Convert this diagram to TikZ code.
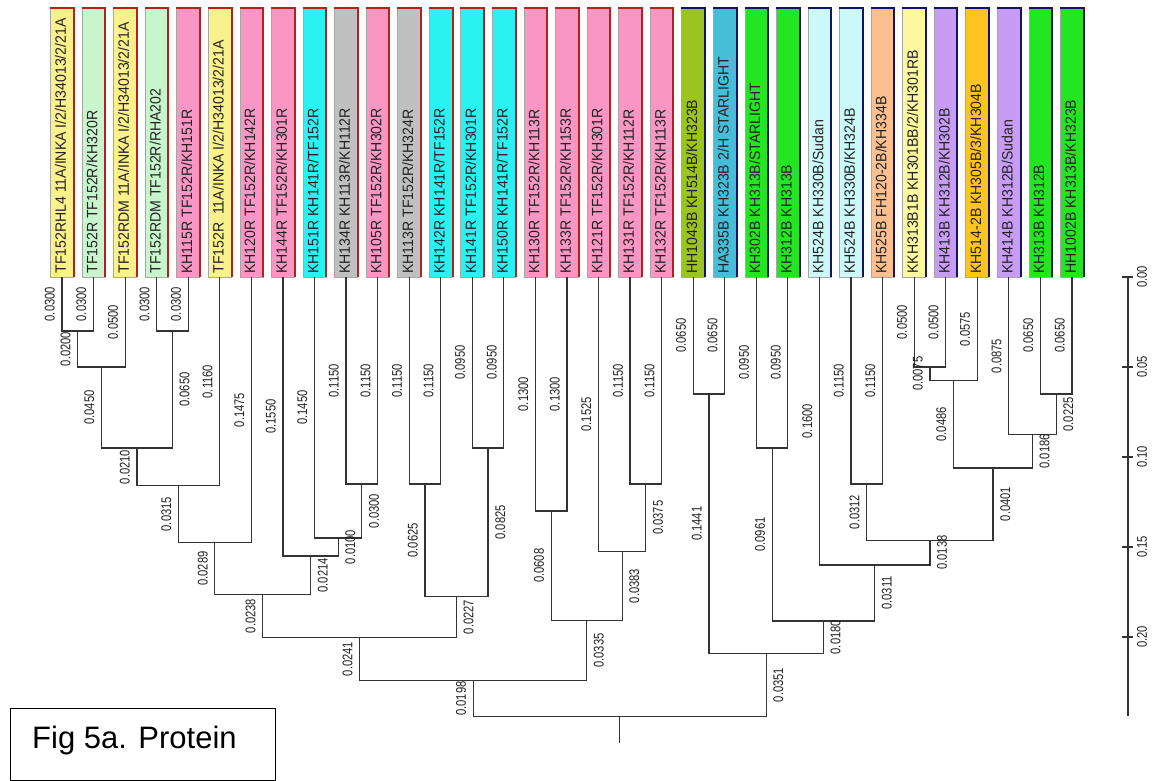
\documentclass[tikz,border=0pt]{standalone}
\usepackage{fontspec}
\setmainfont{Liberation Sans}
\newfontfamily\narrowfont[FakeStretch=0.8]{Liberation Sans}
\newfontfamily\leaffont[FakeStretch=0.94]{Liberation Sans}
\usetikzlibrary{calc}
\definecolor{cyel}{HTML}{FAF08C}
\definecolor{clgr}{HTML}{C8F5CC}
\definecolor{cpink}{HTML}{FA96C4}
\definecolor{ccyan}{HTML}{2AF2F2}
\definecolor{cgray}{HTML}{C0C0C0}
\definecolor{colive}{HTML}{9CC41E}
\definecolor{cteal}{HTML}{46BEDA}
\definecolor{cgreen}{HTML}{22E622}
\definecolor{clcyan}{HTML}{CCFAFA}
\definecolor{cpeach}{HTML}{FCC090}
\definecolor{clyel}{HTML}{FCF8A0}
\definecolor{clav}{HTML}{C89CF4}
\definecolor{corange}{HTML}{FCC420}
\definecolor{bred}{HTML}{B4201E}
\definecolor{bnavy}{HTML}{141464}
\definecolor{txtc}{HTML}{222222}
\definecolor{linec}{HTML}{333333}
\newcommand\brfont{\narrowfont\fontsize{14}{14}\selectfont}
\newcommand\lffont{\leaffont\fontsize{15}{15}\selectfont}
\newcommand\mkleaf[4]{%
  \node[lbox, fill=#2] (B#1) at ({62+31.56*(#1-1)},142.5) {};
  \draw[#3, line width=2pt] (B#1.north west) -- (B#1.north east) -- (B#1.south east);
  \node[ltext] (T#1) at ([xshift=-1.5pt,yshift=3.5pt]B#1.south) {#4};
  \coordinate (L#1) at (B#1.south);
}
\newcommand\jn[4]{%
  \path ($(#2)!0.5!(#3)$) coordinate (#1-m);
  \pgfmathsetmacro\jy{277+1800*#4}
  \coordinate (#1) at (#1-m |- 0,\jy);
}
\newcommand\brlab[4]{\path (#1) -- (#1 |- #2) node[pos=0.5,#4] {#3};}
\begin{document}
\begin{tikzpicture}[x=1pt,y=-1pt,
  lbox/.style={rectangle, inner sep=0pt, minimum width=23pt, minimum height=269pt, draw=gray!70, line width=0.6pt},
  ltext/.style={rotate=90, anchor=west, inner sep=0pt, font=\lffont, text=txtc},
  br/.style={line width=1.2pt, draw=linec},
  bll/.style={xshift=-6pt, rotate=90, anchor=south, inner sep=1pt, font=\brfont, text=txtc},
  blr/.style={xshift=6pt, rotate=90, anchor=north, inner sep=1pt, font=\brfont, text=txtc},
  axl/.style={rotate=90, anchor=north, inner sep=1pt, font=\brfont, text=txtc}]
\useasboundingbox (0,0) rectangle (1156,781);
\fill[white] (0,0) rectangle (1156,781);
% leaves
\mkleaf{1}{cyel}{bred}{TF152RHL4 11A/INKA I/2/H34013/2/21A}
\mkleaf{2}{clgr}{bred}{TF152R TF152R/KH320R}
\mkleaf{3}{cyel}{bred}{TF152RDM 11A/INKA I/2/H34013/2/21A}
\mkleaf{4}{clgr}{bred}{TF152RDM TF152R/RHA202}
\mkleaf{5}{cpink}{bred}{KH115R TF152R/KH151R}
\mkleaf{6}{cyel}{bred}{TF152R\ \ 11A/INKA I/2/H34013/2/21A}
\mkleaf{7}{cpink}{bred}{KH120R TF152R/KH142R}
\mkleaf{8}{cpink}{bred}{KH144R TF152R/KH301R}
\mkleaf{9}{ccyan}{bred}{KH151R KH141R/TF152R}
\mkleaf{10}{cgray}{bred}{KH134R KH113R/KH112R}
\mkleaf{11}{cpink}{bred}{KH105R TF152R/KH302R}
\mkleaf{12}{cgray}{bred}{KH113R TF152R/KH324R}
\mkleaf{13}{ccyan}{bred}{KH142R KH141R/TF152R}
\mkleaf{14}{ccyan}{bred}{KH141R TF152R/KH301R}
\mkleaf{15}{ccyan}{bred}{KH150R KH141R/TF152R}
\mkleaf{16}{cpink}{bred}{KH130R TF152R/KH113R}
\mkleaf{17}{cpink}{bred}{KH133R TF152R/KH153R}
\mkleaf{18}{cpink}{bred}{KH121R TF152R/KH301R}
\mkleaf{19}{cpink}{bred}{KH131R TF152R/KH112R}
\mkleaf{20}{cpink}{bred}{KH132R TF152R/KH113R}
\mkleaf{21}{colive}{bnavy}{HH1043B KH514B/KH323B}
\mkleaf{22}{cteal}{bnavy}{HA335B KH323B 2/H STARLIGHT}
\mkleaf{23}{cgreen}{bnavy}{KH302B KH313B/STARLIGHT}
\mkleaf{24}{cgreen}{bnavy}{KH312B KH313B}
\mkleaf{25}{clcyan}{bnavy}{KH524B KH330B/Sudan}
\mkleaf{26}{clcyan}{bnavy}{KH524B KH330B/KH324B}
\mkleaf{27}{cpeach}{bnavy}{KH525B FH120-2B/KH334B}
\mkleaf{28}{clyel}{bnavy}{KKH313B1B KH301BB/2/KH301RB}
\mkleaf{29}{clav}{bnavy}{KH413B KH312B/KH302B}
\mkleaf{30}{corange}{bnavy}{KH514-2B KH305B/3/KH304B}
\mkleaf{31}{clav}{bnavy}{KH414B KH312B/Sudan}
\mkleaf{32}{cgreen}{bnavy}{KH313B KH312B}
\mkleaf{33}{cgreen}{bnavy}{HH1002B KH313B/KH323B}
% internal nodes
\jn{n12}{L1}{L2}{0.03}
\jn{n123}{n12}{L3}{0.05}
\jn{n45}{L4}{L5}{0.03}
\jn{n1to5}{n123}{n45}{0.095}
\jn{n1to6}{n1to5}{L6}{0.116}
\jn{n1to7}{n1to6}{L7}{0.1475}
\jn{n10x11}{L10}{L11}{0.115}
\jn{n9to11}{L9}{n10x11}{0.145}
\jn{n8to11}{L8}{n9to11}{0.155}
\jn{n1to11}{n1to7}{n8to11}{0.1764}
\jn{n12x13}{L12}{L13}{0.115}
\jn{n14x15}{L14}{L15}{0.095}
\jn{n12to15}{n12x13}{n14x15}{0.1775}
\jn{n1to15}{n1to11}{n12to15}{0.2002}
\jn{n16x17}{L16}{L17}{0.13}
\jn{n19x20}{L19}{L20}{0.115}
\jn{n18to20}{L18}{n19x20}{0.1525}
\jn{n16to20}{n16x17}{n18to20}{0.1908}
\jn{nA}{n1to15}{n16to20}{0.2243}
\jn{n21x22}{L21}{L22}{0.065}
\jn{n23x24}{L23}{L24}{0.095}
\jn{n26x27}{L26}{L27}{0.115}
\jn{n28x29}{L28}{L29}{0.05}
\jn{n28to30}{n28x29}{L30}{0.0575}
\jn{n32x33}{L32}{L33}{0.065}
\jn{n31to33}{L31}{n32x33}{0.0875}
\jn{n28to33}{n28to30}{n31to33}{0.1061}
\jn{n26to33}{n26x27}{n28to33}{0.1462}
\jn{n25to33}{L25}{n26to33}{0.16}
\jn{n23to33}{n23x24}{n25to33}{0.1911}
\jn{nB}{n21x22}{n23to33}{0.2091}
\jn{root}{nA}{nB}{0.2442}
\coordinate (rootend) at (root |- 0,743);
% branches
\draw[br] (L1) |- (n12) -| (L2);
\draw[br] (n12) |- (n123) -| (L3);
\draw[br] (L4) |- (n45) -| (L5);
\draw[br] (n123) |- (n1to5) -| (n45);
\draw[br] (n1to5) |- (n1to6) -| (L6);
\draw[br] (n1to6) |- (n1to7) -| (L7);
\draw[br] (L10) |- (n10x11) -| (L11);
\draw[br] (L9) |- (n9to11) -| (n10x11);
\draw[br] (L8) |- (n8to11) -| (n9to11);
\draw[br] (n1to7) |- (n1to11) -| (n8to11);
\draw[br] (L12) |- (n12x13) -| (L13);
\draw[br] (L14) |- (n14x15) -| (L15);
\draw[br] (n12x13) |- (n12to15) -| (n14x15);
\draw[br] (n1to11) |- (n1to15) -| (n12to15);
\draw[br] (L16) |- (n16x17) -| (L17);
\draw[br] (L19) |- (n19x20) -| (L20);
\draw[br] (L18) |- (n18to20) -| (n19x20);
\draw[br] (n16x17) |- (n16to20) -| (n18to20);
\draw[br] (n1to15) |- (nA) -| (n16to20);
\draw[br] (L21) |- (n21x22) -| (L22);
\draw[br] (L23) |- (n23x24) -| (L24);
\draw[br] (L26) |- (n26x27) -| (L27);
\draw[br] (L28) |- (n28x29) -| (L29);
\draw[br] (n28x29) |- (n28to30) -| (L30);
\draw[br] (L32) |- (n32x33) -| (L33);
\draw[br] (L31) |- (n31to33) -| (n32x33);
\draw[br] (n28to30) |- (n28to33) -| (n31to33);
\draw[br] (n26x27) |- (n26to33) -| (n28to33);
\draw[br] (L25) |- (n25to33) -| (n26to33);
\draw[br] (n23x24) |- (n23to33) -| (n25to33);
\draw[br] (n21x22) |- (nB) -| (n23to33);
\draw[br] (nA) |- (root) -| (nB);
\draw[br] (root) -- (rootend);
% branch length labels
\brlab{L1}{n12}{0.0300}{bll}
\brlab{L2}{n12}{0.0300}{bll}
\brlab{n12}{n123}{0.0200}{bll}
\brlab{L3}{n123}{0.0500}{bll}
\brlab{L4}{n45}{0.0300}{bll}
\brlab{L5}{n45}{0.0300}{bll}
\brlab{n123}{n1to5}{0.0450}{bll}
\brlab{n45}{n1to5}{0.0650}{blr}
\brlab{n1to5}{n1to6}{0.0210}{bll}
\brlab{L6}{n1to6}{0.1160}{bll}
\brlab{n1to6}{n1to7}{0.0315}{bll}
\brlab{L7}{n1to7}{0.1475}{bll}
\brlab{n1to7}{n1to11}{0.0289}{bll}
\brlab{L8}{n8to11}{0.1550}{bll}
\brlab{L9}{n9to11}{0.1450}{bll}
\brlab{L10}{n10x11}{0.1150}{bll}
\brlab{L11}{n10x11}{0.1150}{bll}
\brlab{n10x11}{n9to11}{0.0300}{blr}
\brlab{n9to11}{n8to11}{0.0100}{blr}
\brlab{n8to11}{n1to11}{0.0214}{blr}
\brlab{n1to11}{n1to15}{0.0238}{bll}
\brlab{L12}{n12x13}{0.1150}{bll}
\brlab{L13}{n12x13}{0.1150}{bll}
\brlab{L14}{n14x15}{0.0950}{bll}
\brlab{L15}{n14x15}{0.0950}{bll}
\brlab{n12x13}{n12to15}{0.0625}{bll}
\brlab{n14x15}{n12to15}{0.0825}{blr}
\brlab{n12to15}{n1to15}{0.0227}{blr}
\brlab{n1to15}{nA}{0.0241}{bll}
\brlab{L16}{n16x17}{0.1300}{bll}
\brlab{L17}{n16x17}{0.1300}{bll}
\brlab{n16x17}{n16to20}{0.0608}{bll}
\brlab{L18}{n18to20}{0.1525}{bll}
\brlab{L19}{n19x20}{0.1150}{bll}
\brlab{L20}{n19x20}{0.1150}{bll}
\brlab{n19x20}{n18to20}{0.0375}{blr}
\brlab{n18to20}{n16to20}{0.0383}{blr}
\brlab{n16to20}{nA}{0.0335}{blr}
\brlab{nA}{root}{0.0198}{bll}
\brlab{L21}{n21x22}{0.0650}{bll}
\brlab{L22}{n21x22}{0.0650}{bll}
\brlab{n21x22}{nB}{0.1441}{bll}
\brlab{L23}{n23x24}{0.0950}{bll}
\brlab{L24}{n23x24}{0.0950}{bll}
\brlab{n23x24}{n23to33}{0.0961}{bll}
\brlab{L25}{n25to33}{0.1600}{bll}
\brlab{L26}{n26x27}{0.1150}{bll}
\brlab{L27}{n26x27}{0.1150}{bll}
\brlab{n26x27}{n26to33}{0.0312}{bll}
\brlab{L28}{n28x29}{0.0500}{bll}
\brlab{L29}{n28x29}{0.0500}{bll}
\brlab{n28x29}{n28to30}{0.0075}{bll}
\brlab{L30}{n28to30}{0.0575}{bll}
\brlab{n28to30}{n28to33}{0.0486}{bll}
\brlab{L31}{n31to33}{0.0875}{bll}
\brlab{L32}{n32x33}{0.0650}{bll}
\brlab{L33}{n32x33}{0.0650}{bll}
\brlab{n32x33}{n31to33}{0.0225}{blr}
\brlab{n31to33}{n28to33}{0.0186}{blr}
\brlab{n28to33}{n26to33}{0.0401}{blr}
\brlab{n26to33}{n25to33}{0.0138}{blr}
\brlab{n25to33}{n23to33}{0.0311}{blr}
\brlab{n23to33}{nB}{0.0180}{blr}
\brlab{nB}{root}{0.0351}{blr}
% scale axis
\coordinate (ax0) at (1128,277);
\coordinate (ax1) at (1128,716);
\draw[br] (ax0) -- (ax1);
\foreach \k/\v in {0/0.00,1/0.05,2/0.10,3/0.15,4/0.20}{
  \draw[br] (1122,277+90*\k) -- (1133,277+90*\k);
  \node[axl] (tick\k) at (1136,277+90*\k) {\v};
}
% caption box
\node[draw=black, line width=1.2pt, minimum width=265pt, minimum height=72pt, anchor=north west, inner sep=0pt] (figbox) at (10,708) {};
\node[anchor=base west, inner sep=0pt, font=\fontsize{31}{31}\selectfont] (figtext) at (32,748) {Fig 5a. Protein};
\end{tikzpicture}
\end{document}
